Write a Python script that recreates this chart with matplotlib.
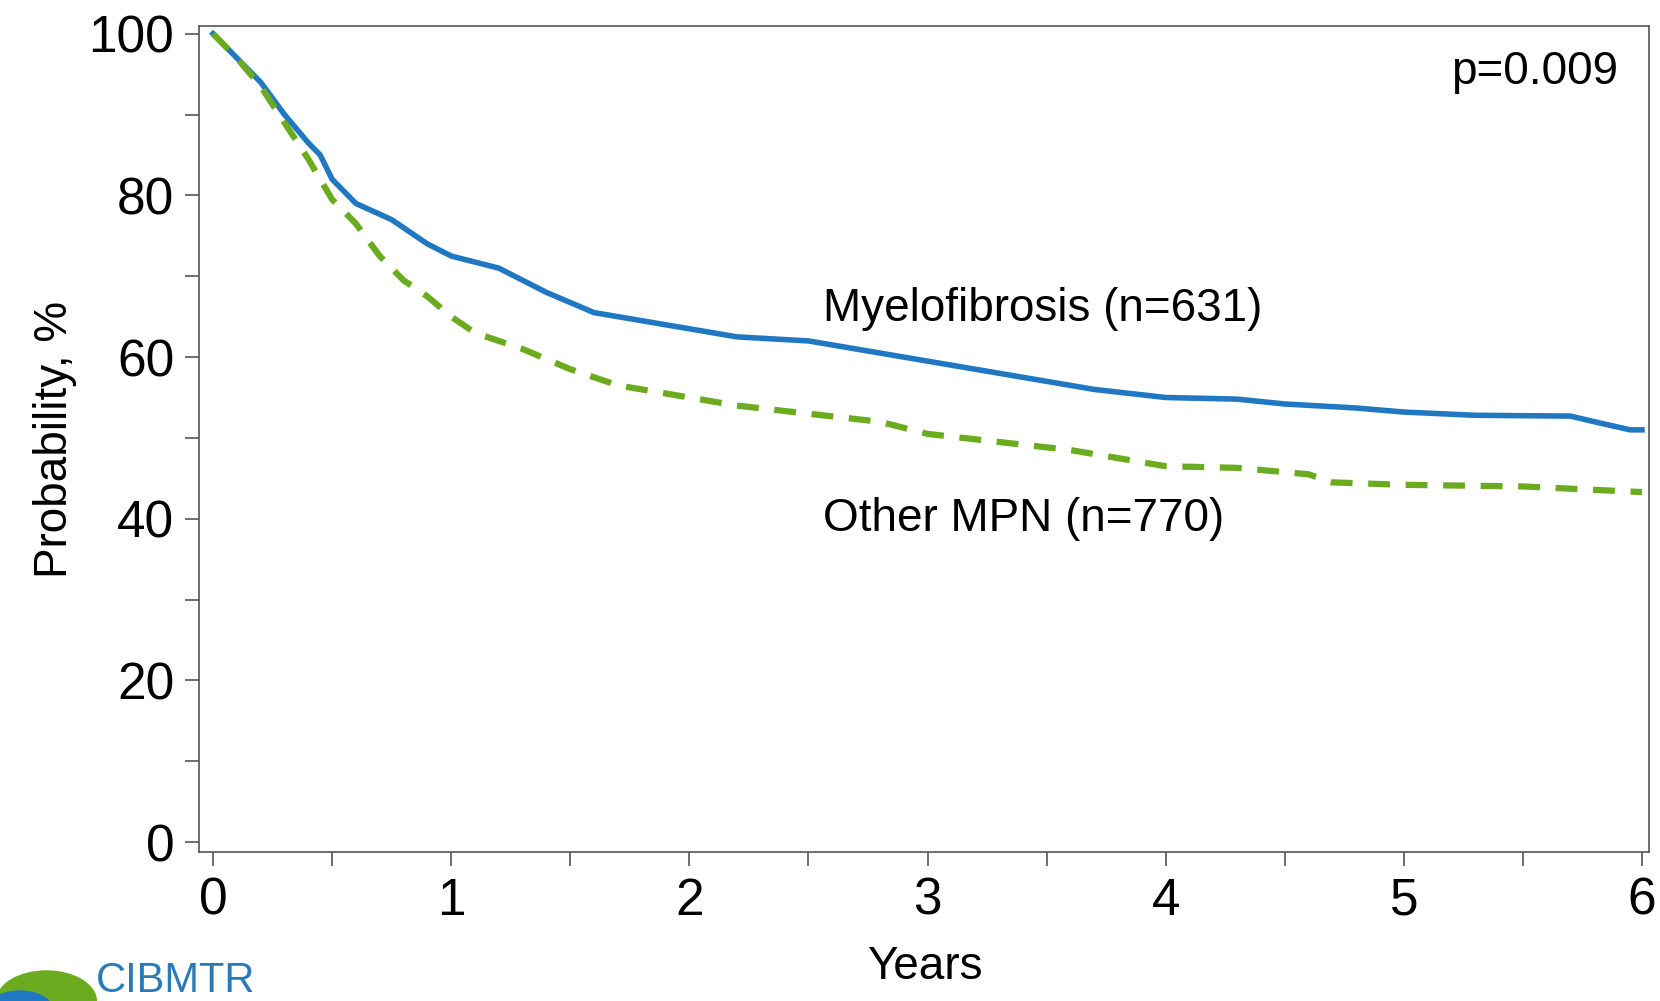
import matplotlib.pyplot as plt
from matplotlib.patches import Circle

plt.rcParams['font.family'] = ['Liberation Sans', 'DejaVu Sans']

# survival curves, values
mf_years = [0, 0.1, 0.2, 0.3, 0.4, 0.45, 0.5, 0.6, 0.75, 0.9, 1.0, 1.2, 1.4, 1.6, 1.8, 2.0,
            2.2, 2.5, 2.7, 3.0, 3.2, 3.5, 3.7, 4.0, 4.3, 4.5, 4.8, 5.0, 5.3, 5.7, 5.8, 5.95, 6.0]
mf_prob = [100, 97, 94, 90, 86.5, 85, 82, 79, 77, 74, 72.5, 71, 68, 65.5, 64.5, 63.5,
           62.5, 62, 61, 59.5, 58.5, 57, 56, 55, 54.8, 54.2, 53.7, 53.2, 52.8, 52.7, 52, 51, 51]
mpn_years = [0, 0.1, 0.2, 0.3, 0.4, 0.5, 0.6, 0.7, 0.8, 0.9, 1.0, 1.1, 1.3, 1.5, 1.7, 1.9,
             2.2, 2.5, 2.8, 3.0, 3.3, 3.6, 3.8, 4.0, 4.3, 4.6, 4.7, 5.0, 5.5, 6.0]
mpn_prob = [100, 97, 93.5, 89, 84.5, 79.5, 76.5, 72.5, 69.5, 67.5, 65, 63, 61, 58.5, 56.5, 55.5,
            54, 53, 52, 50.5, 49.5, 48.5, 47.5, 46.5, 46.3, 45.5, 44.5, 44.2, 44, 43.3]

fig = plt.figure(figsize=(16.6, 10.01), dpi=100)
ax = fig.add_axes([0.12, 0.149, 0.8736, 0.8246])

ax.plot(mf_years, mf_prob, color="#1f78c1", lw=4)
ax.plot(mpn_years, mpn_prob, color="#6aab1f", lw=4.5, dashes=(3.5, 2.5))

ax.set_xlim(-0.058, 6.031)
ax.set_ylim(-1.2, 100.9)
ax.set_xticks(range(7))
ax.set_xticks([0.5, 1.5, 2.5, 3.5, 4.5, 5.5], minor=True)
ax.set_yticks(range(0, 101, 20))
ax.set_yticks(range(10, 100, 20), minor=True)
ax.tick_params(labelsize=37, length=10, width=1.2, color="#555555", pad=8)
ax.tick_params(which="minor", length=10, width=1.2, color="#555555")
for s in ax.spines.values():
    s.set_color("#555555")
    s.set_linewidth(1.2)

ax.set_xlabel("Years", fontsize=33, labelpad=14)
ax.set_ylabel("Probability, %", fontsize=33, labelpad=8)

ax.text(5.9, 98, "p=0.009", fontsize=33, ha="right", va="top")
ax.text(2.56, 66, "Myelofibrosis (n=631)", fontsize=33, va="center")
ax.text(2.56, 40, "Other MPN (n=770)", fontsize=33, va="center")

# logo fragment at bottom left
fig.patches.append(Circle((0.028, 0.0), 0.03, transform=fig.transFigure, color="#6aab1f"))
fig.patches.append(Circle((0.012, -0.01), 0.02, transform=fig.transFigure, color="#1f78c1"))
fig.text(0.058, 0.0, "CIBMTR", fontsize=30, color="#2a7ab8", va="bottom")

fig.savefig("out.png", dpi=100)
